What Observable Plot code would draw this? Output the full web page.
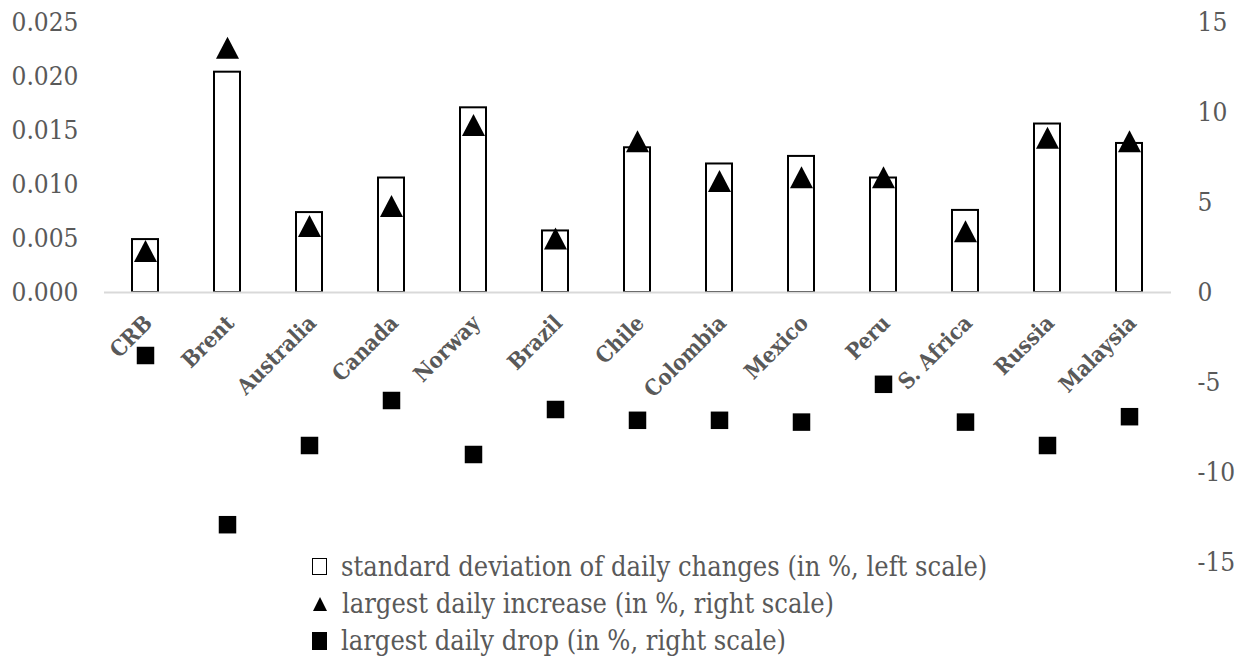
<!DOCTYPE html>
<html><head><meta charset="utf-8">
<script src="https://cdn.jsdelivr.net/npm/d3@7"></script>
<script src="https://cdn.jsdelivr.net/npm/@observablehq/plot@0.6"></script>
<style>
body{margin:0;background:#fff;}
#wrap{position:relative;width:1250px;height:668px;font-family:"DejaVu Serif Condensed","DejaVu Serif",serif;font-stretch:condensed;}
svg text{font-stretch:condensed;}
#legend{position:absolute;left:312px;top:548px;color:#595959;font-size:27px;line-height:37px;}
.item{display:flex;align-items:center;white-space:nowrap;height:37px}
.sw{display:inline-block;margin-right:14px;box-sizing:border-box}
</style></head><body><div id="wrap"><div id="chart"></div><div id="legend"></div></div>
<script>
const categories = ["CRB","Brent","Australia","Canada","Norway","Brazil","Chile","Colombia","Mexico","Peru","S. Africa","Russia","Malaysia"];
const stdDev = [0.0049,0.0204,0.0074,0.0106,0.0171,0.0057,0.0134,0.0119,0.0126,0.0106,0.0076,0.0156,0.0138];
const maxIncrease = [2.3,13.6,3.7,4.8,9.3,3.0,8.4,6.2,6.4,6.4,3.4,8.6,8.4];
const maxDrop = [-3.5,-12.9,-8.5,-6.0,-9.0,-6.5,-7.1,-7.1,-7.2,-5.1,-7.2,-8.5,-6.9];
const leftTicks = [0,0.005,0.010,0.015,0.020,0.025];
const rightTicks = [-15,-10,-5,0,5,10,15];
const legendLabels = ["standard deviation of daily changes (in %, left scale)","largest daily increase (in %, right scale)","largest daily drop (in %, right scale)"];

const data = categories.map((c,i)=>({cat:c, sd:stdDev[i], up:maxIncrease[i], down:maxDrop[i]}));
const K = 15/0.025; // left scale -> right scale units

const triangle = {draw(ctx){ctx.moveTo(0,-11);ctx.lineTo(11.5,11);ctx.lineTo(-11.5,11);ctx.closePath();}};
const square = {draw(ctx){ctx.rect(-8.75,-8.75,17.5,17.5);}};
const FONT = "'DejaVu Serif Condensed', 'DejaVu Serif', serif";

const chart = Plot.plot({
  width:1250, height:668,
  marginTop:22, marginBottom:106, marginLeft:104, marginRight:79,
  style:{fontFamily:FONT, fontSize:"26px", color:"#595959", background:"white"},
  x:{domain:categories, paddingInner:0.68, paddingOuter:0.34, axis:null},
  y:{domain:[-15,15], axis:null},
  marks:[
    Plot.barY(data,{x:"cat", y:d=>d.sd*K, fill:"white", stroke:"black", strokeWidth:2}),
    Plot.ruleY([0],{stroke:"#d9d9d9", strokeWidth:2}),
    Plot.text(categories,{x:d=>d, y:0, text:d=>d, rotate:-45, textAnchor:"end", dx:3, dy:27, fontWeight:"bold", fontSize:22, fill:"#595959"}),
    Plot.dot(data,{x:"cat", y:"up", symbol:triangle, fill:"black", stroke:null}),
    Plot.dot(data,{x:"cat", y:"down", symbol:square, fill:"black", stroke:null}),
    Plot.axisY(leftTicks.map(v=>v*K),{anchor:"left", tickSize:0, tickPadding:26, tickFormat:d=>(d/K).toFixed(3), fontSize:26, fill:"#595959"}),
    Plot.axisY(rightTicks,{anchor:"right", tickSize:0, tickPadding:26, tickFormat:d=>String(d), fontSize:26, fill:"#595959"})
  ]
});
document.getElementById("chart").appendChild(chart);

const swatches = [
  '<span class="sw" style="width:15px;height:17px;border:1.5px solid #000;background:#fff"></span>',
  '<span class="sw" style="width:0;height:0;border-left:7px solid transparent;border-right:7px solid transparent;border-bottom:14px solid #000;margin-left:1px;margin-right:15px"></span>',
  '<span class="sw" style="width:15px;height:18px;background:#000"></span>'
];
document.getElementById("legend").innerHTML = legendLabels.map((t,i)=>`<div class="item">${swatches[i]}<span>${t}</span></div>`).join("");
</script></body></html>
